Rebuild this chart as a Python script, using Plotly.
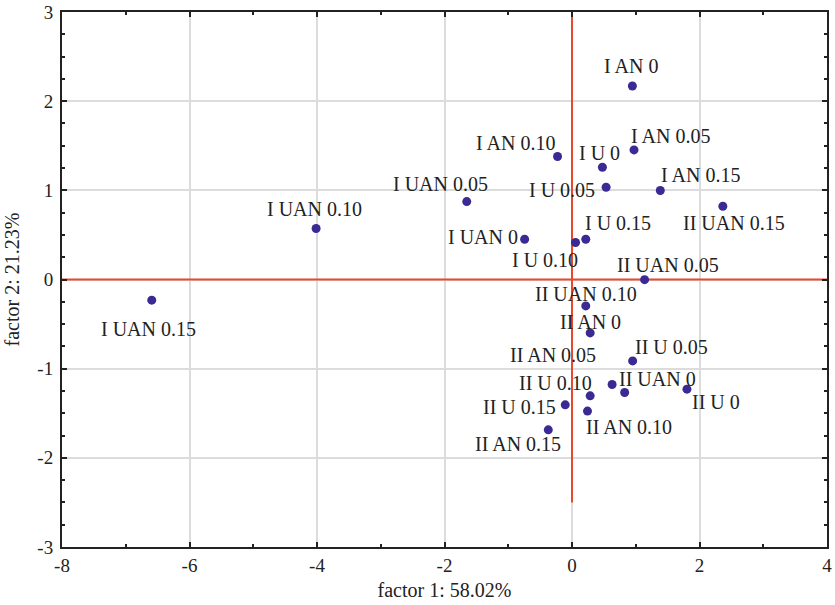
import plotly.graph_objects as go

labels = ["I AN 0", "I AN 0.05", "I AN 0.10", "I AN 0.15",
          "I U 0", "I U 0.05", "I U 0.10", "I U 0.15",
          "I UAN 0", "I UAN 0.05", "I UAN 0.10", "I UAN 0.15",
          "II AN 0", "II AN 0.05", "II AN 0.10", "II AN 0.15",
          "II U 0", "II U 0.05", "II U 0.10", "II U 0.15",
          "II UAN 0", "II UAN 0.05", "II UAN 0.10", "II UAN 0.15"]
factor1 = [0.947, 0.973, -0.227, 1.385,
           0.477, 0.535, 0.055, 0.216,
           -0.743, -1.651, -4.014, -6.592,
           0.285, 0.629, 0.243, -0.372,
           1.803, 0.951, 0.285, -0.106,
           0.826, 1.139, 0.216, 2.366]
factor2 = [2.170, 1.453, 1.379, 0.998,
           1.259, 1.035, 0.415, 0.452,
           0.452, 0.874, 0.572, -0.232,
           -0.599, -1.177, -1.476, -1.686,
           -1.230, -0.913, -1.305, -1.406,
           -1.267, -0.002, -0.296, 0.822]

x_ticks = [-8, -6, -4, -2, 0, 2, 4]
x_tick_text = ["-8", "-6", "-4", "-2", "0", "2", "4"]
y_ticks = [-3, -2, -1, 0, 1, 2, 3]
y_tick_text = ["-3", "-2", "-1", "0", "1", "2", "3"]

# label offsets in pixels (dx right, dy down) -- styling only
label_offsets = [(-1, -20), (36, -14), (-42, -14), (40, -16),
                 (-3, -14), (-44, 3), (-31, 17), (32, -16),
                 (-42, -2), (-26, -18), (-2, -20), (-3, 29),
                 (0, -11), (-59, -29), (42, 16), (-30, 14),
                 (29, 13), (39, -14), (-35, -13), (-46, 2),
                 (33, -13), (23, -15), (0, -12), (11, 17)]

FONT = "Liberation Serif"
RED = "#e8482c"
INK = "#222222"

fig = go.Figure()
fig.add_trace(go.Scatter(
    x=factor1, y=factor2, mode="markers",
    marker=dict(size=9, color="#3b2a93"),
    text=labels, hoverinfo="text", showlegend=False, cliponaxis=False))

# red reference axes
fig.add_shape(type="line", x0=-8, x1=4, y0=0, y1=0, xref="x", yref="y",
              line=dict(color=RED, width=2), layer="between")
fig.add_shape(type="line", x0=0, x1=0, y0=-2.5, y1=3, xref="x", yref="y",
              line=dict(color=RED, width=2), layer="between")

for lab, x, y, (dx, dy) in zip(labels, factor1, factor2, label_offsets):
    fig.add_annotation(x=x, y=y, text=lab, showarrow=False,
                       xshift=dx, yshift=-dy, xanchor="center", yanchor="middle",
                       font=dict(family=FONT, size=20, color=INK))

axis_common = dict(
    showline=True, linecolor=INK, linewidth=2, mirror="allticks",
    showgrid=True, gridcolor="#dcdcdc", gridwidth=1.5, zeroline=False,
    ticks="inside", ticklen=5, tickcolor=INK, tickwidth=1.5,
    tickfont=dict(family=FONT, size=19, color=INK), automargin=False,
)

fig.update_xaxes(range=[-8, 4], tickvals=x_ticks, ticktext=x_tick_text,
                 minor=dict(ticks="inside", dtick=1, ticklen=3, tickcolor=INK, showgrid=False),
                 title=dict(text="factor 1: 58.02%", font=dict(family=FONT, size=20, color=INK), standoff=8),
                 **axis_common)
fig.update_yaxes(range=[-3, 3], tickvals=y_ticks, ticktext=y_tick_text,
                 minor=dict(ticks="inside", dtick=0.25, ticklen=3, tickcolor=INK, showgrid=False),
                 title=dict(text="factor 2: 21.23%", font=dict(family=FONT, size=20, color=INK), standoff=12),
                 ticklabelstandoff=3,
                 **axis_common)

fig.update_layout(
    width=835, height=605,
    margin=dict(l=62, r=8, t=12, b=58, autoexpand=False),
    plot_bgcolor="white", paper_bgcolor="white",
    font=dict(family=FONT, color=INK),
)

# remove the default 8px page margin so the figure fills the window exactly
fig.write_html("out.html",
               config={"displayModeBar": False},
               post_script="document.body.style.margin='0';document.body.style.overflow='hidden';")
